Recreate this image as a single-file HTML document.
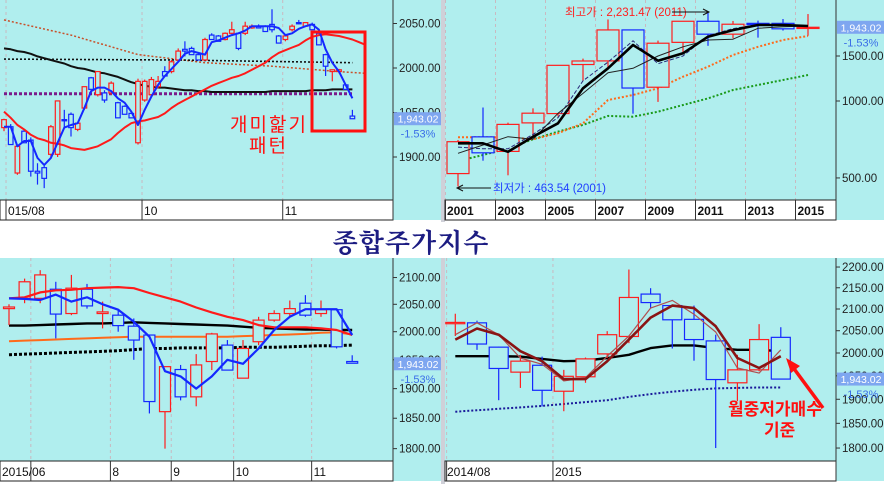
<!DOCTYPE html>
<html><head><meta charset="utf-8">
<style>
html,body{margin:0;padding:0;background:#fff;}
body{width:885px;height:484px;overflow:hidden;font-family:"Liberation Sans","Noto Sans CJK KR",sans-serif;}
svg text{font-family:"Liberation Sans","Noto Sans CJK KR",sans-serif;}
</style></head>
<body>
<svg id="chart" width="885" height="484" viewBox="0 0 885 484" xmlns="http://www.w3.org/2000/svg">
  <rect x="0" y="0" width="885" height="484" fill="#ffffff"/>
  <rect x="441" y="0" width="4" height="222" fill="#cfd0d8"/>
  <rect x="441" y="258" width="4" height="226" fill="#cfd0d8"/>
  <text x="411" y="252" text-anchor="middle" font-size="26" font-weight="bold" fill="#1c1c82" letter-spacing="1" style='font-family:"Noto Serif CJK KR","Noto Serif CJK SC",serif'>종합주가지수</text>
  <g id="layer"></g>
</svg>
<script>
// ---------- Panel 1 : daily (2015/08 - 11) ----------
const p1Open=[1933,1934,1882,1929,1919,1884,1888,1903,1903,1942,1948,1931,1955,1989,1970,1972,1972,1961,1957,1949,1916,1964,1970,1979,1996,1996,2009,2021,2022,2015,2009,2037,2036,2032,2039,2039,2039,2045,2047,2047,2049,2036,2032,2043,2051,2047,2049,2039,2015,1996,1996,1981,1946];
const p1High=[1943,1937,1914,1931,1922,1893,1890,1936,1963,1953,1950,1939,1979,1990,1996,1975,1985,1962,1958,1950,1988,1987,1990,1991,2002,2009,2022,2030,2024,2017,2034,2039,2037,2040,2052,2040,2052,2049,2049,2048,2066,2037,2037,2049,2054,2051,2051,2040,2016,1998,1999,1982,1953];
const p1Low=[1929,1914,1880,1916,1878,1869,1865,1900,1900,1933,1923,1929,1953,1976,1968,1961,1970,1944,1948,1944,1914,1962,1968,1977,1990,1994,2007,2013,2015,2009,2008,2032,2030,2031,2038,2020,2037,2044,2045,2041,2040,2028,2030,2041,2049,2046,2043,2026,1991,1985,1994,1976,1943];
const p1Close=[1942,1914,1912,1916,1884,1882,1876,1934,1963,1941,1933,1938,1979,1976,1996,1964,1983,1944,1948,1944,1985,1985,1987,1985,1991,2007,2019,2019,2015,2009,2032,2032,2030,2039,2043,2022,2047,2047,2045,2041,2043,2028,2036,2047,2050,2051,2043,2026,2002,1998,1998,1976,1943];
const p1Ma5=[1934,1934,1912,1918,1918,1899,1891,1899,1916,1933,1936,1938,1955,1974,1978,1978,1974,1966,1961,1951,1936,1953,1968,1981,1991,1999,2007,2016,2019,2017,2015,2029,2031,2034,2037,2039,2042,2047,2047,2047,2047,2045,2037,2039,2044,2047,2049,2043,2021,2006,1996,1981,1966];
const p1Ma20=[1951,1944,1936,1931,1925,1921,1919,1916,1915,1913,1910,1909,1908,1910,1912,1916,1920,1927,1933,1938,1940,1941,1943,1945,1949,1955,1960,1964,1968,1972,1976,1980,1983,1986,1989,1991,1994,1998,2002,2006,2012,2017,2020,2023,2026,2031,2035,2037,2038,2037,2036,2034,2032,2029,2026];
const p1Ma60=[2022,2021,2019,2018,2016,2013,2011,2009,2007,2005,2002,2000,1999,1997,1995,1994,1992,1990,1987,1984,1982,1980,1979,1978,1978,1977,1976,1975,1975,1974,1974,1973,1973,1973,1973,1973,1973,1973,1973,1973,1974,1974,1974,1974,1974,1974,1975,1975,1975,1976,1976,1976,1976];
const p1DotBlackIdx=[0,26,52];
const p1DotBlackVal=[2010,2009,2006];
const p1DotBrownIdx=[0,10,20,30,40,50,54];
const p1DotBrownVal=[2054,2037,2015,2006,2002,1996,1994];
const p1DotPurpleIdx=[0,52];
const p1DotPurpleVal=[1971,1971];
const p1Ticks=[2050,2000,1950,1900];
const p1TickLabels=["2050.00","2000.00","1950.00","1900.00"];
const p1XLabels=["015/08","10","11"];
const p1XIdx=[0.3,20.6,41.6];

// ---------- Panel 2 : yearly (2001 - 2015) ----------
const p2Open=[520,724,635,821,893,1389,1435,1897,1132,1696,2051,1826,2013,2013,1926];
const p2High=[704,943,823,936,1379,1465,2085,1901,1723,2052,2231,2057,2063,2093,2189];
const p2Low=[463,584,512,719,870,1203,1345,892,992,1532,1644,1758,1770,1886,1800];
const p2Close=[693,627,810,896,1379,1434,1897,1124,1683,2051,1826,1997,2011,1916,1943];
const p2MaThick=[683,683,633,725,818,1121,1342,1656,1438,1537,1785,1894,1983,1983,1965];
const p2MaThin=[624,673,725,708,895,1071,1290,1342,1500,1630,1733,1745,1925,1953,1965];
const p2MaDash=[660,650,650,740,860,1200,1420,1720,1400,1500,1800,1920,1990,1980,1960];
const p2MaOrange=[721,721,721,708,748,818,1009,1056,1121,1245,1362,1513,1630,1733,1796];
const p2MaGreen=[582,615,653,708,759,806,874,868,908,965,1024,1104,1155,1208,1264];
const p2Ticks=[1500,1000,500];
const p2TickLabels=["1500.00","1000.00","500.00"];
const p2XLabels=["2001","2003","2005","2007","2009","2011","2013","2015"];
const p2XIdx=[-0.5,1.5,3.5,5.5,7.5,9.5,11.5,13.5];

// ---------- Panel 3 : weekly (2015/06 - 11) ----------
const p3Open=[2042,2061,2061,2078,2033,2078,2033,2030,2010,1994,1861,1933,1886,1947,1976,1918,1982,2021,2033,2052,2033,2040,1947];
const p3High=[2050,2098,2114,2092,2105,2088,2055,2039,2024,1994,1938,1941,1960,1998,1985,1985,2027,2039,2057,2067,2057,2042,1958];
const p3Low=[2012,2052,2052,1988,2030,2042,2006,2000,1950,1858,1800,1880,1870,1932,1932,1918,1976,2018,2027,2027,2027,1970,1944];
const p3Close=[2045,2092,2105,2032,2080,2047,2036,2011,1985,1878,1938,1886,1941,1996,1932,1970,2021,2033,2042,2030,2040,1973,1944];
const p3MaBlue=[2061,2060,2058,2068,2055,2063,2050,2040,2018,1991,1930,1921,1900,1921,1950,1943,1970,2003,2027,2041,2041,2041,1994];
const p3MaRed=[2061,2063,2072,2076,2077,2080,2081,2082,2080,2071,2063,2055,2044,2035,2027,2021,2012,2008,2008,2008,2006,2003,1994];
const p3MaBlack=[2011,2011,2012,2013,2014,2015,2015,2016,2017,2016,2015,2014,2013,2012,2011,2009,2007,2006,2005,2004,2004,2003,2003];
const p3MaOrange=[1983,1984,1985,1986,1987,1988,1989,1990,1991,1991,1991,1991,1991,1991,1991,1992,1993,1994,1995,1996,1998,1999,1995];
const p3MaDot=[1959,1960,1961,1962,1963,1964,1965,1966,1968,1970,1970,1971,1971,1971,1971,1972,1972,1972,1973,1974,1975,1975,1976];
const p3Ticks=[2100,2050,2000,1950,1900,1850,1800];
const p3TickLabels=["2100.00","2050.00","2000.00","1950.00","1900.00","1850.00","1800.00"];
const p3XLabels=["2015/06","8","9","10","11"];
const p3XIdx=[1.4,6.5,10.4,14.4,19.4];

// ---------- Panel 4 : monthly (2014/08 - 2015/11) ----------
const p4Open=[2066,2068,2013,1958,1973,1917,1948,1998,2037,2135,2108,2076,2027,1935,1963,2035];
const p4High=[2089,2073,2014,1996,1992,1963,1990,2049,2194,2149,2110,2108,2041,1996,2065,2058];
const p4Low=[2038,2007,1898,1924,1885,1875,1935,1989,2022,2102,2010,1983,1800,1896,1960,1943];
const p4Close=[2069,2020,1966,1982,1919,1949,1987,2041,2127,2115,2075,2030,1942,1963,2030,1943];
const p4MaThick=[2030,2055,2041,2004,1982,1943,1943,1982,2030,2080,2108,2102,2060,1989,1967,1993];
const p4MaThin=[2041,2068,2041,1989,1975,1939,1946,1993,2038,2102,2120,2088,2047,1967,1956,2007];
const p4MaBlack=[1993,1993,1993,1992,1987,1982,1983,1989,1996,2011,2017,2017,2011,2007,2007,2004];
const p4MaNavy=[1874,1877,1880,1883,1886,1890,1894,1898,1905,1911,1916,1920,1923,1924,1925,1925];
const p4Ticks=[2200,2150,2100,2050,2000,1950,1900,1850,1800];
const p4TickLabels=["2200.00","2150.00","2100.00","2050.00","2000.00","1950.00","1900.00","1850.00","1800.00"];
const p4XLabels=["2014/08","2015"];
const p4XIdx=[-0.4,4.5];

const lastPrice=1943.02;
const lastPriceLabel="1,943.02";
const lastChangeLabel="-1.53%";

const NS="http://www.w3.org/2000/svg";
const layer=document.getElementById('layer');
function mk(tag,attrs,parent){const e=document.createElementNS(NS,tag);for(const k in attrs)e.setAttribute(k,attrs[k]);(parent||layer).appendChild(e);return e;}

const BG="#b0eeee", RED="#ff1e1e", BLUE="#1428ff";

function panel(cfg){
  const g=mk('g',{});
  
  
  const bg=mk('rect',{x:cfg.x0,y:cfg.y0,width:cfg.ax+48-cfg.x0,height:cfg.yb-cfg.y0+20,fill:BG},g);
  
  
  const cid='clip-'+cfg.name;
  const cp=mk('clipPath',{id:cid},g);
  mk('rect',{x:cfg.x0,y:cfg.y0,width:cfg.ax-cfg.x0,height:cfg.yb-cfg.y0},cp);
  const X=i=>cfg.cx0+cfg.step*i;
  const Y=cfg.yScale;
  cfg.xIdx.forEach((ix,k)=>{
    const gx=X(ix);
    const gl=mk('line',{x1:gx,y1:cfg.y0,x2:gx,y2:cfg.yb,stroke:'#c9b9c0','stroke-width':1,'stroke-dasharray':'3,3'},g);
    
    
  });
  const plot=mk('g',{'clip-path':'url(#'+cid+')'},g);
  
  
  function line(vals,style,nm,idx){
    const pts=vals.map((v,i)=>X(idx?idx[i]:i).toFixed(1)+','+Y(v).toFixed(1)).join(' ');
    const p=mk('polyline',Object.assign({points:pts,fill:'none','stroke-linejoin':'round'},style),plot);
    
    
  }
  (cfg.linesBelow||[]).forEach(l=>line(l.v,l.s,l.n,l.i));
  for(let i=0;i<cfg.O.length;i++){
    const o=cfg.O[i],h=cfg.H[i],l=cfg.L[i],c=cfg.C[i];
    const col=c>=o?RED:BLUE;
    const cx=X(i),top=Y(Math.max(o,c)),bot=Y(Math.min(o,c));
    const cg=mk('g',{},plot);
    
    
    mk('line',{x1:cx,y1:Y(h),x2:cx,y2:top,stroke:col,'stroke-width':1.2},cg);
    mk('line',{x1:cx,y1:bot,x2:cx,y2:Y(l),stroke:col,'stroke-width':1.2},cg);
    mk('rect',{x:cx-cfg.cw/2,y:top,width:cfg.cw,height:Math.max(bot-top,1.2),fill:BG,stroke:col,'stroke-width':1.2},cg);
  }
  (cfg.lines||[]).forEach(l=>line(l.v,l.s,l.n,l.i));
  const band=mk('rect',{x:cfg.x0,y:cfg.yb,width:cfg.ax-cfg.x0,height:20,fill:'#fff',stroke:'#222','stroke-width':1},g);
  
  
  cfg.xLabels.forEach((t,k)=>{
    let tx=X(cfg.xIdx[k])+2; if(cfg.firstLabelX!==undefined&&k===0)tx=cfg.firstLabelX;
    const e=mk('text',{x:tx,y:cfg.yb+15,'font-size':12,'font-weight':cfg.boldX?'bold':'normal',fill:'#111'},g);
    e.textContent=t;
    
    
    const tk=mk('line',{x1:X(cfg.xIdx[k]),y1:cfg.yb,x2:X(cfg.xIdx[k]),y2:cfg.yb+20,stroke:'#333','stroke-width':1},g);
    
    
  });
  const al=mk('line',{x1:cfg.ax,y1:cfg.y0,x2:cfg.ax,y2:cfg.yb+20,stroke:'#333','stroke-width':1},g);
  
  
  cfg.ticks.forEach((v,k)=>{
    const ty=Y(v);
    mk('line',{x1:cfg.ax,y1:ty,x2:cfg.ax+4,y2:ty,stroke:'#333','stroke-width':1},g);
    const e=mk('text',{x:cfg.ax+6,y:ty+4,'font-size':11.5,fill:'#222'},g);
    e.textContent=cfg.tickLabels[k];
    
    
  });
  const py=Y(lastPrice);
  const pb=mk('rect',{x:cfg.ax+1,y:py-6.5,width:47,height:13,fill:'#7ea6f0'},g);
  
  
  const pt=mk('text',{x:cfg.ax+25,y:py+4,'font-size':10.5,fill:'#fff','text-anchor':'middle'},g);
  pt.textContent=lastPriceLabel;
  
  
  const pc=mk('text',{x:cfg.ax+25,y:py+19,'font-size':11,fill:'#3a6ee8','text-anchor':'middle'},g);
  pc.textContent=lastChangeLabel;
  
  
  return {g,X,Y};
}

const P1=panel({name:'daily-panel',x0:0,y0:0,yb:200,ax:393,cx0:4,step:6.7,cw:4.6,
  yScale:v=>68-(v-2000)*0.89,O:p1Open,H:p1High,L:p1Low,C:p1Close,
  ticks:p1Ticks,tickLabels:p1TickLabels,xLabels:p1XLabels,xIdx:p1XIdx,firstLabelX:8,
  linesBelow:[
    {v:p1DotBrownVal,i:p1DotBrownIdx,n:'ma-dotted-brown',s:{stroke:'#c8502a','stroke-width':1.5,'stroke-dasharray':'2,2'}},
    {v:p1DotBlackVal,i:p1DotBlackIdx,n:'ma-dotted-black',s:{stroke:'#111','stroke-width':1.6,'stroke-dasharray':'2,2'}},
    {v:p1DotPurpleVal,i:p1DotPurpleIdx,n:'ma-dotted-purple',s:{stroke:'#7a1a8a','stroke-width':3,'stroke-dasharray':'3,2'}},
    {v:p1Ma60,n:'ma60-line',s:{stroke:'#111','stroke-width':2}}],
  lines:[
    {v:p1Ma20,n:'ma20-line',s:{stroke:'#ff1a1a','stroke-width':2}},
    {v:p1Ma5,n:'ma5-line',s:{stroke:'#1428ff','stroke-width':2}}]
});
const rb=mk('rect',{x:312,y:32,width:53,height:99,fill:'none',stroke:'#ff1010','stroke-width':3});


const a1=mk('text',{x:230,y:131,'font-size':19,fill:'#ff1010','letter-spacing':2});
a1.textContent='개미핥기';


const a2=mk('text',{x:249,y:152,'font-size':19,fill:'#ff1010','letter-spacing':2});
a2.textContent='패턴';



const P2=panel({name:'yearly-panel',x0:445,y0:0,yb:200,ax:836,cx0:458,step:25,cw:22,
  yScale:v=>101-111*Math.log(v/1000),O:p2Open,H:p2High,L:p2Low,C:p2Close,
  ticks:p2Ticks,tickLabels:p2TickLabels,xLabels:p2XLabels,xIdx:p2XIdx,boldX:true,firstLabelX:447,
  linesBelow:[
    {v:p2MaGreen,n:'ma-dotted-green',s:{stroke:'#1a9a1a','stroke-width':2,'stroke-dasharray':'2,2'}},
    {v:p2MaOrange,n:'ma-dotted-orange',s:{stroke:'#ff6a1a','stroke-width':2,'stroke-dasharray':'2,2'}}],
  lines:[
    {v:p2MaDash,n:'ma-dashed-navy',s:{stroke:'#28287a','stroke-width':1,'stroke-dasharray':'4,2'}},
    {v:p2MaThin,n:'ma-thin-black',s:{stroke:'#222','stroke-width':1}},
    {v:p2MaThick,n:'ma-thick-black',s:{stroke:'#000','stroke-width':2.6}}]
});
const hiT=mk('text',{x:565,y:16,'font-size':11.5,fill:'#ff2020'});
hiT.textContent='최고가 : 2,231.47 (2011)';


const hiA=mk('path',{d:'M672,12 L708,12 M703,9 L709,12 L703,15',stroke:'#111','stroke-width':1,fill:'none'});


const loT=mk('text',{x:493,y:192,'font-size':11.5,fill:'#2040ff'});
loT.textContent='최저가 : 463.54 (2001)';


const loA=mk('path',{d:'M491,188 L458,188 M463,185 L457,188 L463,191',stroke:'#111','stroke-width':1,fill:'none'});



const P3=panel({name:'weekly-panel',x0:0,y0:258,yb:461,ax:393,cx0:9,step:15.6,cw:11,
  yScale:v=>331.7-1110*Math.log(v/2000),O:p3Open,H:p3High,L:p3Low,C:p3Close,
  ticks:p3Ticks,tickLabels:p3TickLabels,xLabels:p3XLabels,xIdx:p3XIdx,firstLabelX:2,
  linesBelow:[
    {v:p3MaDot,n:'ma-dotted-black',s:{stroke:'#000','stroke-width':3,'stroke-dasharray':'3,2'}},
    {v:p3MaOrange,n:'ma-orange-line',s:{stroke:'#ff6a1a','stroke-width':2}},
    {v:p3MaBlack,n:'ma-black-line',s:{stroke:'#000','stroke-width':2.4}}],
  lines:[
    {v:p3MaRed,n:'ma-red-line',s:{stroke:'#ff1a1a','stroke-width':2.2}},
    {v:p3MaBlue,n:'ma-blue-line',s:{stroke:'#1428ff','stroke-width':2.2}}]
});

const P4=panel({name:'monthly-panel',x0:445,y0:258,yb:461,ax:836,cx0:455.3,step:21.7,cw:19,
  yScale:v=>353-902*Math.log(v/2000),O:p4Open,H:p4High,L:p4Low,C:p4Close,
  ticks:p4Ticks,tickLabels:p4TickLabels,xLabels:p4XLabels,xIdx:p4XIdx,firstLabelX:447,
  linesBelow:[
    {v:p4MaNavy,n:'ma-dotted-navy',s:{stroke:'#1a1a9a','stroke-width':2,'stroke-dasharray':'2,2'}},
    {v:p4MaBlack,n:'ma-black-line',s:{stroke:'#000','stroke-width':2.4}}],
  lines:[
    {v:p4MaThin,n:'ma-thin-brown',s:{stroke:'#b05050','stroke-width':1.2}},
    {v:p4MaThick,n:'ma-thick-darkred',s:{stroke:'#8a1414','stroke-width':2.6}}]
});
const ar=mk('path',{d:'M823,408 L792,366',stroke:'#ff1010','stroke-width':3.5,fill:'none'});


const ah=mk('polygon',{points:'786,358 800,366 791,373',fill:'#ff1010'});


const b1=mk('text',{x:728,y:415,'font-size':17,'font-weight':'bold',fill:'#ff1010'});
b1.textContent='월중저가매수';


const b2=mk('text',{x:764,y:436,'font-size':17,'font-weight':'bold',fill:'#ff1010'});
b2.textContent='기준';


</script>
</body></html>
